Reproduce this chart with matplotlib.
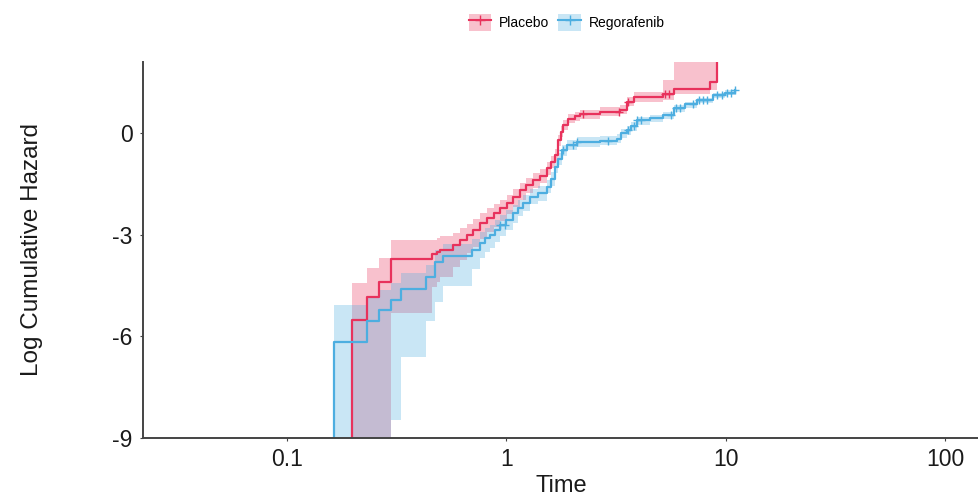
"""Log cumulative hazard plot: Placebo vs Regorafenib."""

import matplotlib
matplotlib.use("Agg")
import matplotlib.pyplot as plt
from matplotlib.lines import Line2D
from matplotlib.patches import Patch
from matplotlib.ticker import NullLocator
import numpy as np

plt.rcParams["font.family"] = ["Liberation Sans", "DejaVu Sans"]
plt.rcParams["axes.unicode_minus"] = False

GROUPS = ["Placebo", "Regorafenib"]
COLORS = ["#E8325C", "#4DAEE0"]

# Placebo step curve (time, log cumulative hazard) and confidence band
red_t = [0.198, 0.231, 0.264, 0.298, 0.459, 0.485, 0.501, 0.574, 0.617, 0.662,
         0.708, 0.761, 0.819, 0.876, 0.939, 1.007, 1.076, 1.158, 1.234, 1.331,
         1.428, 1.532, 1.603, 1.672, 1.731, 1.781, 1.824, 1.923, 2.062, 2.174,
         2.679, 3.311, 3.543, 3.807, 5.213, 5.792, 8.503, 9.131]
red_v = [-5.52, -4.83, -4.39, -3.73, -3.57, -3.50, -3.45, -3.30, -3.15, -3.01,
         -2.85, -2.66, -2.50, -2.37, -2.22, -2.07, -1.88, -1.68, -1.53, -1.39,
         -1.25, -1.04, -0.85, -0.65, -0.21, 0.05, 0.24, 0.43, 0.50, 0.56,
         0.64, 0.70, 0.92, 1.07, 1.15, 1.32, 1.51, 3.0]
red_hi = [-4.43, -3.99, -3.70, -3.16, -3.16, -3.10, -3.05, -2.95, -2.80, -2.68,
          -2.53, -2.36, -2.22, -2.10, -1.96, -1.82, -1.64, -1.46, -1.32, -1.18,
          -1.05, -0.86, -0.68, -0.48, -0.04, 0.20, 0.38, 0.56, 0.63, 0.69,
          0.76, 0.83, 1.06, 1.22, 1.56, 3.0, 3.0, 3.0]
red_lo = [-12, -12, -12, -5.30, -4.55, -4.40, -4.25, -3.95, -3.75, -3.55,
          -3.35, -3.12, -2.93, -2.77, -2.58, -2.40, -2.18, -1.96, -1.78, -1.62,
          -1.47, -1.24, -1.04, -0.83, -0.37, -0.10, 0.10, 0.30, 0.37, 0.43,
          0.52, 0.58, 0.79, 0.93, 0.98, 1.15, 1.28, 1.28]
red_cens = [2.23, 3.28, 3.59, 5.30, 5.51]

# Regorafenib
blue_t = [0.165, 0.231, 0.264, 0.298, 0.333, 0.432, 0.475, 0.517, 0.699, 0.761,
          0.803, 0.845, 0.891, 0.939, 1.000, 1.079, 1.134, 1.199, 1.286, 1.399,
          1.532, 1.603, 1.672, 1.726, 1.794, 1.891, 2.099, 2.679, 3.194, 3.342,
          3.543, 3.711, 3.946, 4.530, 5.213, 5.792, 6.546, 7.396, 8.806, 9.947,
          11.04]
blue_v = [-6.17, -5.54, -5.22, -4.93, -4.61, -4.24, -3.80, -3.62, -3.45, -3.25,
          -3.10, -3.01, -2.85, -2.71, -2.55, -2.37, -2.20, -2.07, -1.88, -1.78,
          -1.58, -1.35, -0.99, -0.75, -0.50, -0.35, -0.26, -0.22, -0.16, 0.0,
          0.09, 0.20, 0.38, 0.45, 0.53, 0.73, 0.85, 0.97, 1.12, 1.20, 1.27]
blue_hi = [-5.07, -4.85, -4.63, -4.43, -4.13, -3.90, -3.45, -3.27, -3.12, -2.93,
           -2.80, -2.70, -2.56, -2.43, -2.28, -2.12, -1.96, -1.84, -1.66, -1.57,
           -1.38, -1.16, -0.81, -0.58, -0.34, -0.20, -0.12, -0.08, -0.03, 0.13,
           0.21, 0.32, 0.49, 0.55, 0.63, 0.82, 0.93, 1.05, 1.19, 1.27, 1.36]
blue_lo = [-12, -12, -12, -8.47, -6.60, -5.56, -5.00, -4.50, -4.00, -3.70,
           -3.50, -3.38, -3.20, -3.05, -2.87, -2.65, -2.46, -2.31, -2.10, -2.00,
           -1.78, -1.55, -1.18, -0.93, -0.66, -0.50, -0.40, -0.36, -0.29, -0.14,
           -0.04, 0.07, 0.25, 0.33, 0.43, 0.62, 0.75, 0.88, 1.03, 1.12, 1.18]
blue_cens = [0.939, 0.990, 1.823, 2.020, 2.104, 2.909, 3.595, 3.807, 3.968,
             4.126, 5.620, 5.943, 6.210, 7.128, 7.556, 7.883, 8.210, 9.186,
             9.621, 10.17, 10.60, 11.04]

X_TICKS = [0.1, 1, 10, 100]
X_LABELS = ["0.1", "1", "10", "100"]
Y_TICKS = [-9, -6, -3, 0]


def draw_group(ax, t, v, lo, hi, cens, color):
    t = np.asarray(t)
    v = np.asarray(v)
    ax.fill_between(t, lo, hi, step="post", color=color, alpha=0.3,
                    linewidth=0)
    ax.step(np.r_[t[0], t], np.r_[-12, v], where="post", color=color, lw=1.6)
    idx = np.searchsorted(t, cens, side="right") - 1
    ax.plot(cens, v[idx], ls="none", marker="+", ms=6, mew=1.0, color=color)


def main():
    fig = plt.figure(figsize=(9.79, 4.97), dpi=100)
    ax = fig.add_axes([0.146, 0.119, 0.854, 0.756])

    draw_group(ax, red_t, red_v, red_lo, red_hi, red_cens, COLORS[0])
    draw_group(ax, blue_t, blue_v, blue_lo, blue_hi, blue_cens, COLORS[1])

    ax.set_xscale("log")
    ax.set_xlim(0.0221, 143)
    ax.set_ylim(-9, 2.1)
    ax.set_xticks(X_TICKS)
    ax.set_xticklabels(X_LABELS)
    ax.xaxis.set_minor_locator(NullLocator())
    ax.set_yticks(Y_TICKS)
    ax.tick_params(labelsize=16.5, length=2.5, width=0.8, colors="#444444",
                   labelcolor="#1a1a1a", pad=5)
    for s in ["top", "right"]:
        ax.spines[s].set_visible(False)
    for s in ["left", "bottom"]:
        ax.spines[s].set_linewidth(1.4)
        ax.spines[s].set_color("#444444")
    ax.set_xlabel("Time", fontsize=17, labelpad=3, color="#1a1a1a")
    ax.set_ylabel("Log Cumulative Hazard", fontsize=17.5, labelpad=50,
                  color="#1a1a1a")

    handles = []
    for c in COLORS:
        handles.append((Patch(facecolor=c, alpha=0.3, edgecolor="none"),
                        Line2D([], [], color=c, lw=1.5, marker="+", ms=7)))
    fig.legend(handles, GROUPS, loc="center", bbox_to_anchor=(0.579, 0.955),
               ncol=2, frameon=False, fontsize=10, handlelength=1.6,
               handleheight=1.5, columnspacing=0.65, handletextpad=0.58)

    fig.savefig("out.png", dpi=100)
    plt.close(fig)


if __name__ == "__main__":
    main()
